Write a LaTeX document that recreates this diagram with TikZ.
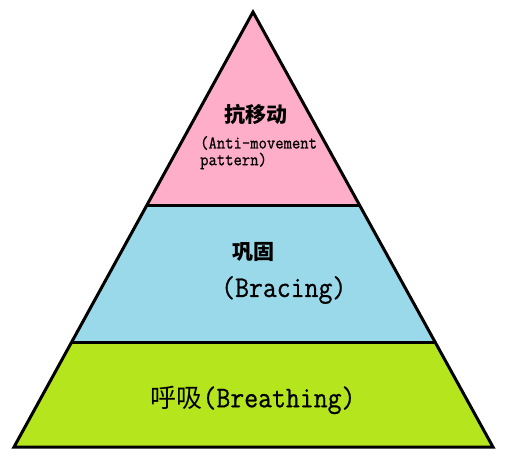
\documentclass[tikz,border=0pt]{standalone}
\usepackage{fontspec}
\newfontfamily\cjk{Noto Sans CJK SC}
\newfontfamily\mono[FakeBold=0.7,FakeStretch=0.9]{Latin Modern Mono}
\definecolor{rose}{HTML}{FFAEC9}
\definecolor{turq}{HTML}{99D9EA}
\definecolor{lime}{HTML}{B5E61D}
\begin{document}
\begin{tikzpicture}[x=1pt,y=-1pt,
  outline/.style={line width=3pt,line join=miter},
  cjkbold/.style={font=\cjk\bfseries\fontsize{21}{25}\selectfont,inner sep=0pt},
  cjkreg/.style={font=\cjk\fontsize{26}{30}\selectfont,inner sep=0pt},
  monosmall/.style={font=\mono\fontsize{18}{22}\selectfont,inner sep=0pt,anchor=west},
  monobig/.style={font=\mono\fontsize{30}{36}\selectfont,inner sep=0pt,anchor=west}]
\useasboundingbox (0,0) rectangle (512,471);
\fill[white] (0,0) rectangle (512,471);
\coordinate (apex) at (253,12);
\coordinate (bl) at (14,447);
\coordinate (br) at (493,447);
\coordinate (l1) at (147,205);
\coordinate (r1) at (359,205);
\coordinate (l2) at (72,342);
\coordinate (r2) at (434,342);
\fill[rose] (apex) -- (r1) -- (l1) -- cycle;
\fill[turq] (l1) -- (r1) -- (r2) -- (l2) -- cycle;
\fill[lime] (l2) -- (r2) -- (br) -- (bl) -- cycle;
\draw[outline] (l1) -- (r1);
\draw[outline] (l2) -- (r2);
\draw[outline] (apex) -- (br) -- (bl) -- cycle;
\node[cjkbold] (t1) at (256,114) {抗移动};
\node[monosmall] (t1a) at (200,143) {(Anti-movement};
\node[monosmall] (t1b) at (200,161) {pattern)};
\node[cjkbold] (t2) at (253,252) {巩固};
\node[monobig] (t2a) at (221,290) {(Bracing)};
\node[cjkreg] (t3) at (253,400) {呼吸{\mono\fontsize{30}{36}\selectfont(Breathing)}};
\end{tikzpicture}
\end{document}
